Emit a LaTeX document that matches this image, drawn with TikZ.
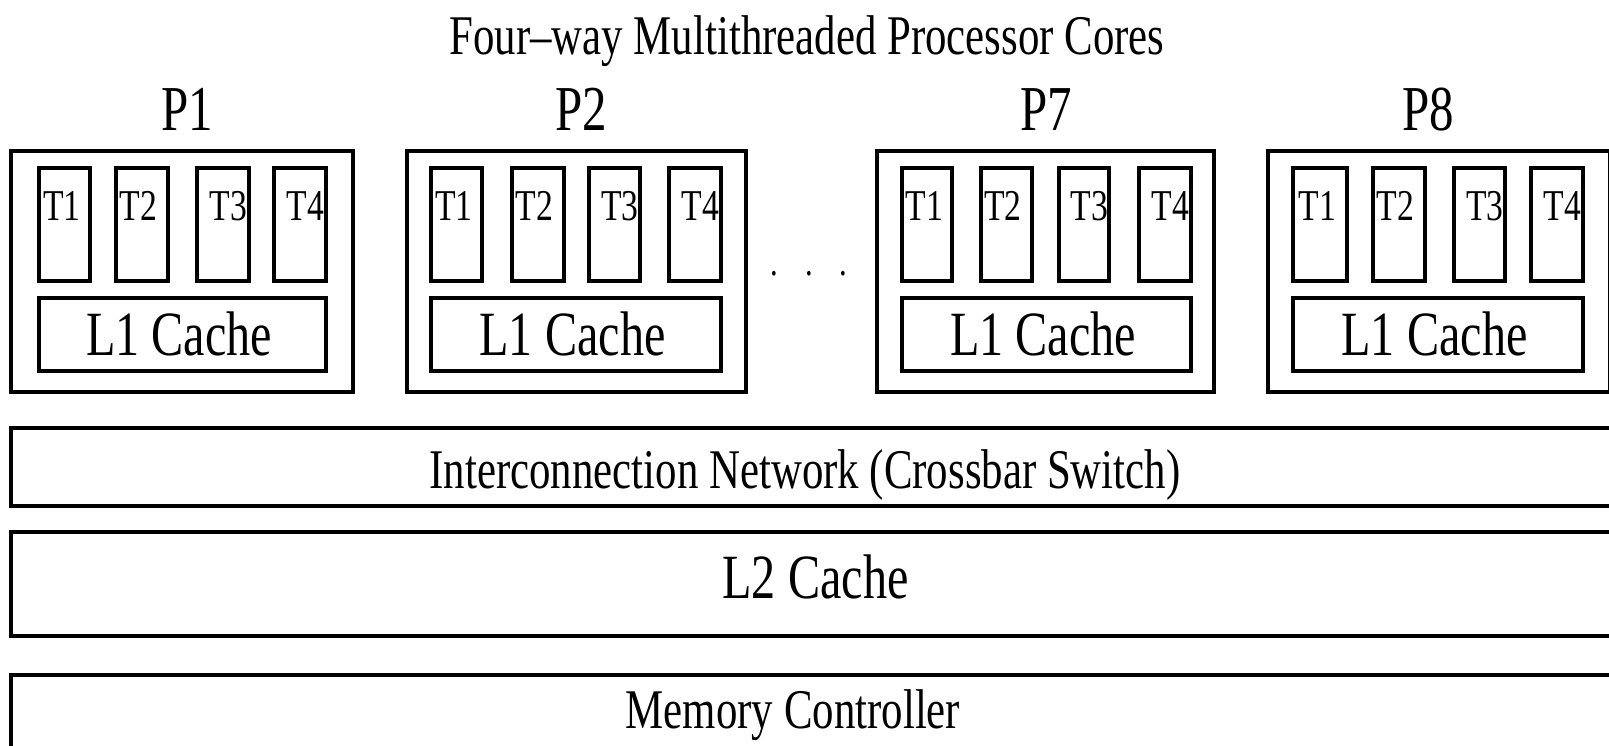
\documentclass[tikz,border=0pt]{standalone}
\usepackage{fontspec}
\setmainfont{Liberation Serif}[FakeStretch=0.765]
\begin{document}
\begin{tikzpicture}[x=1pt,y=-1pt,
  box/.style={draw=black, line width=4pt, rectangle, inner sep=0pt, outer sep=0pt},
  txt/.style={inner sep=0pt, outer sep=0pt, text=black, anchor=base},
  titlefont/.style={font=\fontsize{56}{60}\selectfont},
  pfont/.style={font=\fontsize{64}{68}\selectfont},
  tfont/.style={font=\fontsize{44}{48}\selectfont},
  cfont/.style={font=\fontsize{63}{67}\selectfont},
  dfont/.style={font=\fontsize{40}{44}\selectfont}]
\useasboundingbox (0,0) rectangle (1609,746);
\clip (0,0) rectangle (1609,746);
\fill[white] (0,0) rectangle (1609,746);

% title
\node[txt, titlefont] (title) at (807,55) {Four–way Multithreaded Processor Cores};

% cores
\foreach \n/\la/\lb/\px/\ta/\tb/\tc/\td/\te/\tf/\tg/\th in {
 1/11/353/187.5/39/90/116/168/197/249/274/326,
 2/407/746/581.5/431/482/512/564/589/640/669/721,
 7/877/1214/1046.5/902/952/981/1032/1059/1109/1139/1191,
 8/1268/1610/1428/1293/1347/1373/1425/1454/1505/1531/1583}
{
  \node[box, minimum width={\lb-\la}, minimum height=241] (P\n) at ({(\la+\lb)/2},271.5) {};
  \node[txt, pfont] (P\n lbl) at (\px,131) {P\n};
  \node[box, minimum width={\tb-\ta}, minimum height=113] (P\n T1) at ({(\ta+\tb)/2},224.5) {};
  \node[box, minimum width={\td-\tc}, minimum height=113] (P\n T2) at ({(\tc+\td)/2},224.5) {};
  \node[box, minimum width={\tf-\te}, minimum height=113] (P\n T3) at ({(\te+\tf)/2},224.5) {};
  \node[box, minimum width={\th-\tg}, minimum height=113] (P\n T4) at ({(\tg+\th)/2},224.5) {};
  \node[txt, tfont] (P\n T1t) at ({(\ta+\tb)/2-2.5},221) {T1};
  \node[txt, tfont] (P\n T2t) at ({(\tc+\td)/2-3.5},221) {T2};
  \node[txt, tfont] (P\n T3t) at ({(\te+\tf)/2+5.5},221) {T3};
  \node[txt, tfont] (P\n T4t) at ({(\tg+\th)/2+5.5},221) {T4};
  \node[box, minimum width={\th-\ta}, minimum height=73] (P\n L1) at ({(\ta+\th)/2},334.5) {};
  \node[txt, cfont] (P\n L1t) at ({(\ta+\th)/2-3.5},355) {L1 Cache};
}

% dots between P2 and P7
\node[txt, dfont] (dots) at (809,276) {.\hspace{27pt}.\hspace{27pt}.};

% wide boxes (clipped at the right edge)
\node[box, minimum width=1639, minimum height=78] (net) at ({(11+1650)/2},467) {};
\node[txt, titlefont] (nett) at (805,488) {Interconnection Network (Crossbar Switch)};
\node[box, minimum width=1639, minimum height=104] (l2) at ({(11+1650)/2},584) {};
\node[txt, cfont] (l2t) at (815.5,598) {L2 Cache};
\node[box, minimum width=1639, minimum height=130] (mem) at ({(11+1650)/2},740) {};
\node[txt, titlefont] (memt) at (793,728) {Memory Controller};
\end{tikzpicture}
\end{document}
